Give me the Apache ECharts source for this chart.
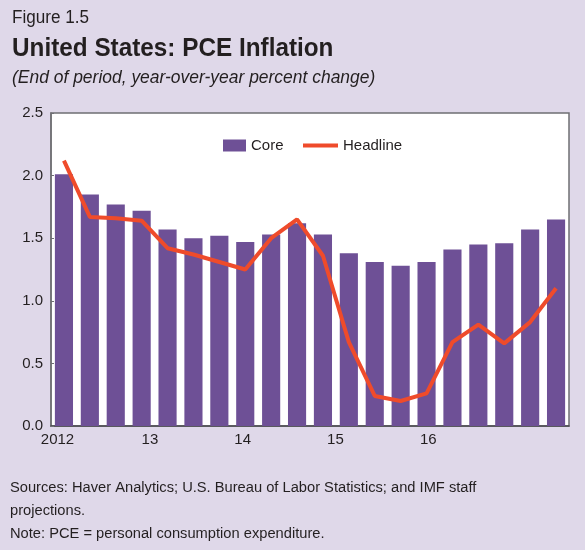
<!DOCTYPE html>
<html>
<head>
<meta charset="utf-8">
<script src="https://cdn.jsdelivr.net/npm/echarts@6/dist/echarts.min.js"></script>
<style>
  html, body { margin: 0; padding: 0; background: #dfd8e9; }
  #chart { width: 585px; height: 550px; }
</style>
</head>
<body>
<div id="chart"></div>
<script>
// quarters 2012Q1 .. 2016Q4
var quarters = ['2012Q1','2012Q2','2012Q3','2012Q4','2013Q1','2013Q2','2013Q3','2013Q4',
                '2014Q1','2014Q2','2014Q3','2014Q4','2015Q1','2015Q2','2015Q3','2015Q4',
                '2016Q1','2016Q2','2016Q3','2016Q4'];
var core = [2.01, 1.85, 1.77, 1.72, 1.57, 1.50, 1.52, 1.47, 1.53, 1.62,
            1.53, 1.38, 1.31, 1.28, 1.31, 1.41, 1.45, 1.46, 1.57, 1.65];
var headline = [2.12, 1.67, 1.66, 1.64, 1.42, 1.37, 1.31, 1.25, 1.50, 1.65,
                1.36, 0.67, 0.24, 0.20, 0.26, 0.67, 0.81, 0.66, 0.83, 1.10];
var yearLabels = ['2012', '13', '14', '15', '16'];
var yearLabelPos = [0.25, 3.82, 7.4, 10.98, 14.57];

var FONT = '"Liberation Sans Narrow", "Liberation Sans", Arial, sans-serif';
var TXT = '#231f20';

var chart = echarts.init(document.getElementById('chart'));
chart.setOption({
    backgroundColor: '#dfd8e9',
    animation: false,
    textStyle: { fontFamily: FONT },
    legend: [{
        data: [{ name: 'Core', icon: 'rect' }],
        left: 218, top: 133,
        itemWidth: 23, itemHeight: 12,
        itemGap: 6,
        textStyle: { fontFamily: FONT, fontSize: 15, color: TXT }
    }, {
        data: [{ name: 'Headline', icon: 'rect' }],
        left: 298, top: 133,
        itemWidth: 35, itemHeight: 4,
        textStyle: { fontFamily: FONT, fontSize: 15, color: TXT }
    }],
    grid: {
        left: 51, right: 16, top: 113, bottom: 124,
        show: true,
        backgroundColor: '#ffffff',
        borderColor: '#6f6f73',
        borderWidth: 1.5
    },
    xAxis: [{
        type: 'category',
        data: quarters,
        axisLine: { lineStyle: { color: '#4a4a4e', width: 1.5 } },
        axisTick: { show: false },
        axisLabel: { show: false }
    }, {
        type: 'value',
        position: 'bottom',
        min: 0,
        max: quarters.length,
        axisLine: { show: false },
        axisTick: { show: false },
        splitLine: { show: false },
        axisLabel: {
            customValues: yearLabelPos,
            margin: 6,
            fontFamily: FONT,
            fontSize: 15,
            color: TXT,
            formatter: function (v) {
                var i = yearLabelPos.indexOf(v);
                return i >= 0 ? yearLabels[i] : '';
            }
        }
    }],
    yAxis: {
        type: 'value',
        min: 0, max: 2.5, interval: 0.5,
        axisLine: { show: true, lineStyle: { color: '#6f6f73', width: 1.5 } },
        axisTick: { show: true, inside: true, length: 3, lineStyle: { color: '#6f6f73' } },
        splitLine: { show: false },
        axisLabel: {
            margin: 8,
            fontFamily: FONT,
            fontSize: 15,
            color: TXT,
            formatter: function (v) { return v.toFixed(1); }
        }
    },
    series: [{
        name: 'Core',
        type: 'bar',
        data: core,
        barCategoryGap: '30%',
        itemStyle: { color: '#6e5096' }
    }, {
        name: 'Headline',
        type: 'line',
        data: headline,
        symbol: 'none',
        lineStyle: { color: '#ef4b2b', width: 4 },
        itemStyle: { color: '#ef4b2b' }
    }],
    graphic: [{
        type: 'text',
        x: 12, y: 9,
        scaleX: 0.95,
        style: { text: 'Figure 1.5', font: '18px ' + FONT, fill: TXT }
    }, {
        type: 'text',
        x: 12, y: 36,
        scaleX: 0.935,
        style: { text: 'United States: PCE Inflation', font: 'bold 26px ' + FONT, fill: TXT }
    }, {
        type: 'text',
        x: 12, y: 69,
        scaleX: 0.97,
        style: { text: '(End of period, year-over-year percent change)', font: 'italic 18px ' + FONT, fill: TXT }
    }, {
        type: 'text',
        x: 10, y: 476,
        scaleX: 0.947,
        style: {
            text: 'Sources: Haver Analytics; U.S. Bureau of Labor Statistics; and IMF staff\nprojections.\nNote: PCE = personal consumption expenditure.',
            font: '15.5px ' + FONT,
            lineHeight: 23,
            fill: TXT
        }
    }]
});
</script>
</body>
</html>
